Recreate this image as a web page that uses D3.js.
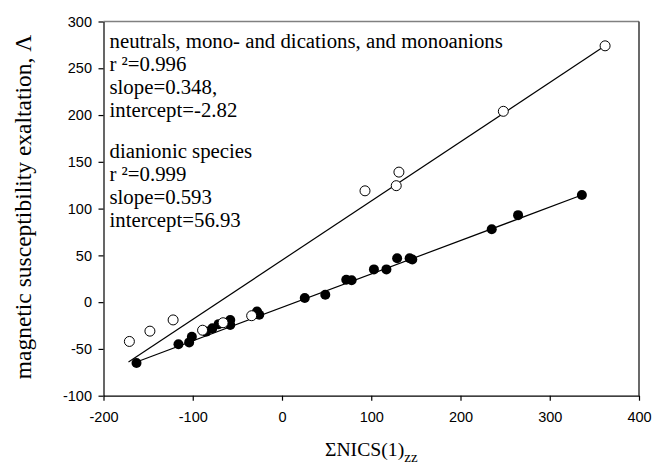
<!DOCTYPE html>
<html><head><meta charset="utf-8">
<script src="https://cdn.jsdelivr.net/npm/d3@7"></script>
<style>body{margin:0;background:#fff}svg{display:block}</style>
</head><body>
<script>
// Data
const openPts = [[-171,-42],[-148,-31],[-122,-19],[-89,-30],[-66,-22],[-34,-14.5],[93,119],[128,124.5],[131,139],[248,204],[362,274]];
const filledPts = [[-163,-65],[-116,-45],[-104,-43],[-101,-37],[-85,-31.5],[-78,-28],[-71,-23.5],[-58,-19],[-58,-24.5],[-28,-10],[-25.5,-13.5],[25.5,4.5],[48.5,8],[72,24],[78,23.5],[103,35],[117,35],[129,47],[143,47],[146,45.5],[235,78],[264.5,93],[336,114.5]];
const openLine = [[-172,-64],[362,274]];
const filledLine = [[-163,-64],[336,114.5]];
const xTicks = [-200,-100,0,100,200,300,400];
const yTicks = [-100,-50,0,50,100,150,200,250,300];
const note1 = ["neutrals, mono- and dications, and monoanions","r \u00B2=0.996","slope=0.348,","intercept=-2.82"];
const note2 = ["dianionic species","r \u00B2=0.999","slope=0.593","intercept=56.93"];

const W=652,H=464;
const L=103.5,R=639,T=21.5,B=395.7;
const svg=d3.select("body").append("svg").attr("width",W).attr("height",H);
const x=d3.scaleLinear().domain([-200,400]).range([L,R]);
const y=d3.scaleLinear().domain([-100,300]).range([B,T]);

// frame top/right
svg.append("line").attr("x1",L).attr("x2",R).attr("y1",T).attr("y2",T).attr("stroke","#808080").attr("stroke-width",1.3);
svg.append("line").attr("x1",R).attr("x2",R).attr("y1",T).attr("y2",B).attr("stroke","#444").attr("stroke-width",1.6);

const fmt=d=>String(d);
const xa=svg.append("g").attr("transform",`translate(0,${B})`)
  .call(d3.axisBottom(x).tickValues(xTicks).tickFormat(fmt).tickSize(5).tickSizeOuter(0).tickPadding(11));
const ya=svg.append("g").attr("transform",`translate(${L},0)`)
  .call(d3.axisLeft(y).tickValues(yTicks).tickFormat(fmt).tickSize(5).tickSizeOuter(0).tickPadding(6.5));
[xa,ya].forEach(a=>{
  a.selectAll("path,line").attr("stroke","#000").attr("stroke-width",1.2);
  a.selectAll("text").attr("font-family","'Liberation Sans', Arial, sans-serif").attr("font-size",14.5).attr("fill","#000");
});

const line=d3.line().x(d=>x(d[0])).y(d=>y(d[1]));
[openLine,filledLine].forEach(l=>svg.append("path").attr("d",line(l)).attr("fill","none").attr("stroke","#000").attr("stroke-width",1.2));

svg.append("g").selectAll("circle").data(filledPts).join("circle")
  .attr("cx",d=>x(d[0])).attr("cy",d=>y(d[1])).attr("r",5).attr("fill","#000");
svg.append("g").selectAll("circle").data(openPts).join("circle")
  .attr("cx",d=>x(d[0])).attr("cy",d=>y(d[1])).attr("r",5).attr("fill","#fff").attr("stroke","#000").attr("stroke-width",1);

const serif="'Liberation Serif', 'Times New Roman', serif";
function note(lines,y0){
  svg.append("g").selectAll("text").data(lines).join("text")
    .attr("x",109.5).attr("y",(d,i)=>y0+i*23).attr("font-family",serif).attr("font-size",20.8).attr("fill","#000").text(d=>d);
}
note(note1,47.7);
note(note2,158.3);

// axis titles
svg.append("text").attr("transform",`translate(30.5,207) rotate(-90)`).attr("text-anchor","middle")
  .attr("font-family",serif).attr("font-size",23.5).attr("fill","#000").text("magnetic susceptibility exaltation, \u039B");
const xt=svg.append("text").attr("x",(L+R)/2).attr("y",456).attr("text-anchor","middle")
  .attr("font-family",serif).attr("font-size",19.7).attr("fill","#000");
xt.append("tspan").text("\u03A3NICS(1)");
xt.append("tspan").attr("font-size",15).attr("dy",6).text("zz");
</script>
</body></html>
